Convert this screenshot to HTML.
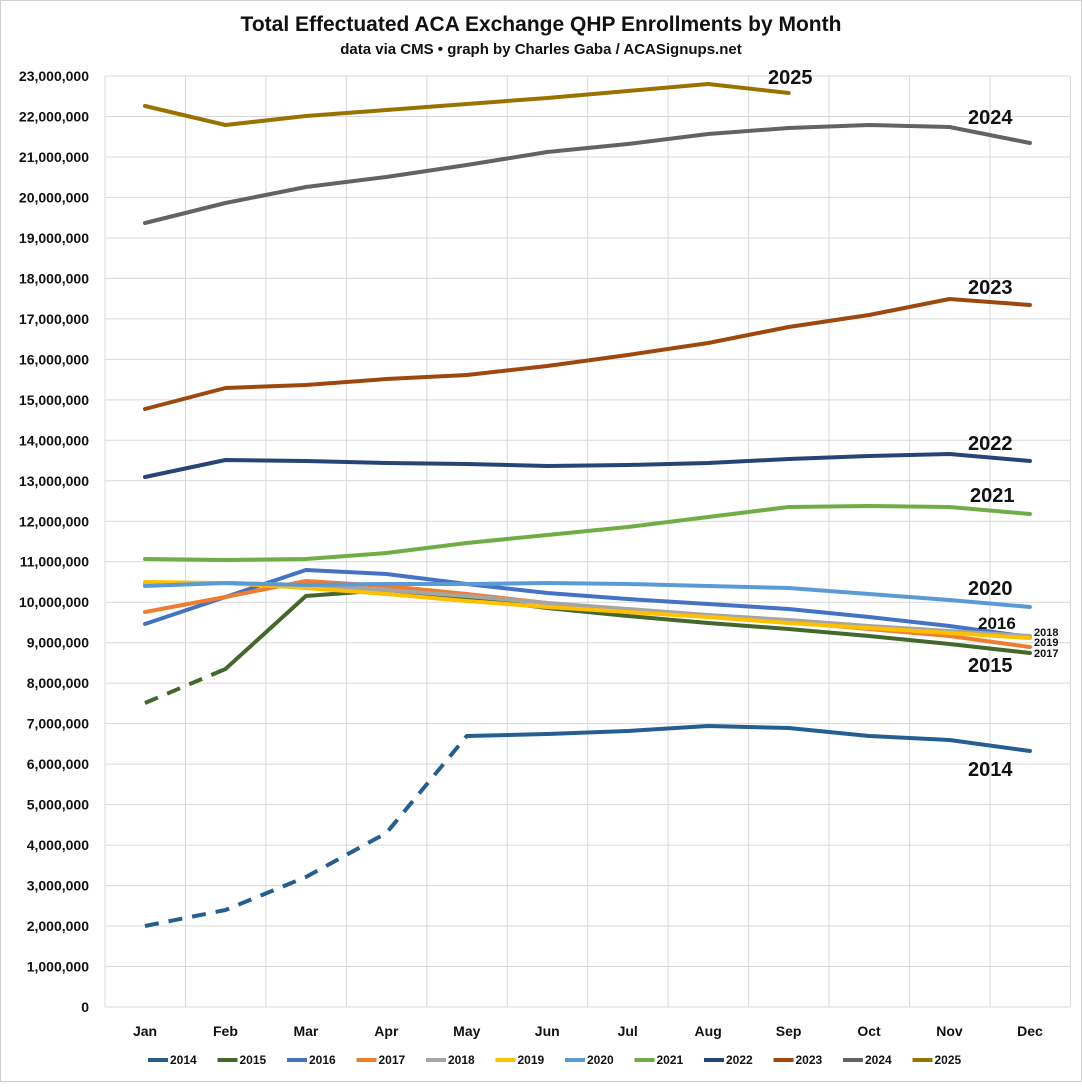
<!DOCTYPE html>
<html><head><meta charset="utf-8"><style>
body{margin:0;background:#fff}
svg text{font-family:"Liberation Sans",sans-serif}
</style></head><body>
<svg width="1082" height="1082" viewBox="0 0 1082 1082" xmlns="http://www.w3.org/2000/svg">
<rect x="0.5" y="0.5" width="1081" height="1081" fill="#fff" stroke="#d0d0d0"/>
<text x="541" y="31" text-anchor="middle" font-size="21" font-weight="bold" fill="#111">Total Effectuated ACA Exchange QHP Enrollments by Month</text>
<text x="541" y="54" text-anchor="middle" font-size="15" font-weight="bold" fill="#111">data via CMS • graph by Charles Gaba / ACASignups.net</text>
<g id="grid" stroke="#d9d9d9" stroke-width="1"></g>
<g id="ylab" font-size="14" font-weight="bold" fill="#111" text-anchor="end"></g>
<g id="xlab" font-size="14" font-weight="bold" fill="#111" text-anchor="middle"></g>
<g id="lines" fill="none" stroke-width="4" stroke-linejoin="round" stroke-linecap="round"></g>
<g font-weight="bold" fill="#111" font-size="20">
<text x="768" y="84">2025</text>
<text x="968" y="124">2024</text>
<text x="968" y="294">2023</text>
<text x="968" y="450">2022</text>
<text x="970" y="502">2021</text>
<text x="968" y="595">2020</text>
<text x="978" y="629" font-size="17">2016</text>
<text x="968" y="672">2015</text>
<text x="968" y="776">2014</text>
<text x="1034" y="636" font-size="11">2018</text>
<text x="1034" y="646" font-size="11">2019</text>
<text x="1034" y="657" font-size="11">2017</text>
</g>
<g id="legend" font-size="12" font-weight="bold" fill="#111"></g>
</svg>
<script>
(function(){
var ns="http://www.w3.org/2000/svg";
function el(p,t,a,txt){var e=document.createElementNS(ns,t);for(var k in a)e.setAttribute(k,a[k]);if(txt!==undefined)e.textContent=txt;document.getElementById(p).appendChild(e);return e;}
var yTop=76,yBot=1007,xL=105,xR=1070,st=(yBot-yTop)/23;
for(var i=0;i<=23;i++){var y=yBot-i*st;el('grid','line',{x1:xL,x2:xR,y1:y,y2:y});
el('ylab','text',{x:89,y:y+5},i==0?'0':(i*1000000).toString().replace(/\B(?=(\d{3})+(?!\d))/g,','));}
function xs(i){return 145+80.45*i;}
for(var j=0;j<=12;j++){var x=105+80.45*j;el('grid','line',{x1:x,x2:x,y1:yTop,y2:yBot});}
var M=['Jan','Feb','Mar','Apr','May','Jun','Jul','Aug','Sep','Oct','Nov','Dec'];
M.forEach(function(m,i){el('xlab','text',{x:xs(i),y:1036},m);});
var S=[
['2014','#255e91',[926,910,877,833,736,734,731,726,728,736,740,751],4],
['2015','#43682b',[703,669,596,590,598,608,616,623,629,636,644,653],1],
['2016','#4472c4',[624,597,570,574,584,593,599,604,609,617,626,637]],
['2017','#ed7d31',[612,597,581,586,594,603,610,616,622,629,636,647]],
['2018','#a5a5a5',[584,583,585,590,596,603,609,615,620,626,631,636]],
['2019','#ffc000',[582,583,588,594,601,607,612,617,623,628,633,638]],
['2020','#5b9bd5',[586,583,585,584,584,583,584,586,588,594,600,607]],
['2021','#70ad47',[559,560,559,553,543,535,527,517,507,506,507,514]],
['2022','#264478',[477,460,461,463,464,466,465,463,459,456,454,461]],
['2023','#9e480e',[409,388,385,379,375,366,355,343,327,315,299,305]],
['2024','#636363',[223,203,187,177,165,152,144,134,128,125,127,143]],
['2025','#997300',[106,125,116,110,104,98,91,84,93]]];
S.forEach(function(s){
 var c=s[1],d=s[2],dash=s[3];
 var pts=d.map(function(y,i){return xs(i)+','+y;});
 if(dash){el('lines','polyline',{points:pts.slice(0,dash+1).join(' '),stroke:c,'stroke-dasharray':'14 10','stroke-linecap':'butt'});
  el('lines','polyline',{points:pts.slice(dash).join(' '),stroke:c});}
 else el('lines','polyline',{points:pts.join(' '),stroke:c});
});
S.forEach(function(s,i){var x=148+69.5*i;el('legend','line',{x1:x,x2:x+20,y1:1060,y2:1060,stroke:s[1],'stroke-width':4});
el('legend','text',{x:x+22,y:1064},s[0]);});
})();
</script>
</body></html>
